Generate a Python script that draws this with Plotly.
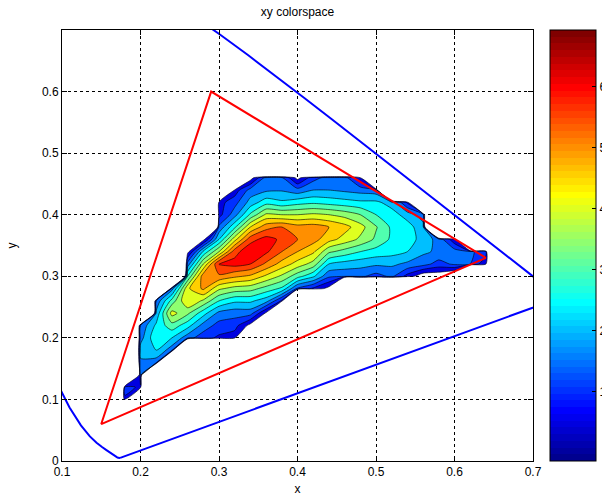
import plotly.graph_objects as go

# ---------------- data ----------------
title_text = "xy colorspace"
x_label = "x"
y_label = "y"

x_ticks = [0.1, 0.2, 0.3, 0.4, 0.5, 0.6, 0.7]
y_ticks = [0, 0.1, 0.2, 0.3, 0.4, 0.5, 0.6]
cbar_ticks = [1, 2, 3, 4, 5, 6]
cbar_min = -0.14
cbar_max = 6.93

# red triangle (gamut) corners
gamut_x = [0.64, 0.29, 0.15, 0.64]
gamut_y = [0.33, 0.60, 0.06, 0.33]

# CIE 1931 spectral locus (380..700 nm)
locus_x = [0.1741, 0.1740, 0.1738, 0.1736, 0.1733, 0.1730, 0.1726, 0.1721, 0.1714, 0.1703,
           0.1689, 0.1669, 0.1644, 0.1611, 0.1566, 0.1510, 0.1440, 0.1355, 0.1241, 0.1096,
           0.0913, 0.0687, 0.0454, 0.0235, 0.0082, 0.0039, 0.0139, 0.0389, 0.0743, 0.1142,
           0.1547, 0.1929, 0.2296, 0.2658, 0.3016, 0.3373, 0.3731, 0.4087, 0.4441, 0.4788,
           0.5125, 0.5448, 0.5752, 0.6029, 0.6270, 0.6482, 0.6658, 0.6801, 0.6915, 0.7006,
           0.7079, 0.7140, 0.7190, 0.7230, 0.7260, 0.7283, 0.7300, 0.7311, 0.7320, 0.7334,
           0.7344, 0.7347, 0.1741]
locus_y = [0.0050, 0.0050, 0.0049, 0.0049, 0.0048, 0.0048, 0.0048, 0.0048, 0.0051, 0.0058,
           0.0069, 0.0086, 0.0109, 0.0138, 0.0177, 0.0227, 0.0297, 0.0399, 0.0578, 0.0868,
           0.1327, 0.2007, 0.2950, 0.4127, 0.5384, 0.6548, 0.7502, 0.8120, 0.8338, 0.8262,
           0.8059, 0.7816, 0.7543, 0.7243, 0.6923, 0.6589, 0.6245, 0.5896, 0.5547, 0.5202,
           0.4866, 0.4544, 0.4242, 0.3965, 0.3725, 0.3514, 0.3340, 0.3197, 0.3083, 0.2993,
           0.2920, 0.2859, 0.2809, 0.2770, 0.2740, 0.2717, 0.2700, 0.2689, 0.2680, 0.2666,
           0.2656, 0.2653, 0.0050]

# density grid (log counts); E marks empty bins
E = -12.0
grid_x = [0.16, 0.18, 0.20, 0.22, 0.24, 0.26, 0.28, 0.30, 0.32, 0.34, 0.36, 0.38, 0.40,
          0.42, 0.44, 0.46, 0.48, 0.50, 0.52, 0.54, 0.56, 0.58, 0.60, 0.62, 0.64, 0.66]
grid_y = [0.08, 0.10, 0.12, 0.14, 0.16, 0.18, 0.20, 0.22, 0.24, 0.26, 0.28,
          0.30, 0.32, 0.34, 0.36, 0.38, 0.40, 0.42, 0.44, 0.46, 0.48]
density = [
    [E, E, E, E, E, E, E, E, E, E, E, E, E, E, E, E, E, E, E, E, E, E, E, E, E, E],
    [E, 0.9, E, E, E, E, E, E, E, E, E, E, E, E, E, E, E, E, E, E, E, E, E, E, E, E],
    [E, 1.2, 0.9, E, E, E, E, E, E, E, E, E, E, E, E, E, E, E, E, E, E, E, E, E, E, E],
    [E, E, 1.5, E, E, E, E, E, E, E, E, E, E, E, E, E, E, E, E, E, E, E, E, E, E, E],
    [E, E, 1.9, 1.7, E, E, E, E, E, E, E, E, E, E, E, E, E, E, E, E, E, E, E, E, E, E],
    [E, E, 2.2, 2.5, 1.7, E, E, E, E, E, E, E, E, E, E, E, E, E, E, E, E, E, E, E, E, E],
    [E, E, 1.8, 2.9, 2.5, 1.7, 1.2, 0.9, 0.7, E, E, E, E, E, E, E, E, E, E, E, E, E, E, E, E, E],
    [E, E, 1.6, 2.6, 3.3, 2.7, 1.8, 1.3, 1.2, 0.3, E, E, E, E, E, E, E, E, E, E, E, E, E, E, E, E],
    [E, E, E, 2.1, 4.2, 3.6, 2.7, 1.85, 1.7, 1.7, 0.4, E, E, E, E, E, E, E, E, E, E, E, E, E, E, E],
    [E, E, E, 1.6, 3.2, 4.5, 3.9, 3.0, 2.6, 2.6, 2.2, 0.9, E, E, E, E, E, E, E, E, E, E, E, E, E, E],
    [E, E, E, E, 1.8, 4.4, 5.1, 4.1, 3.8, 3.7, 3.3, 2.9, 1.4, 0.9, 0.3, E, E, E, E, E, E, E, E, E, E, E],
    [E, E, E, E, E, 3.0, 5.3, 5.4, 5.1, 4.9, 4.4, 3.9, 3.2, 2.6, 1.6, 1.6, 1.6, 1.3, 1.6, 0.8, 0.1, 0.1, -0.5, E, E, E],
    [E, E, E, E, E, 1.7, 4.0, 6.05, 6.2, 6.0, 5.4, 4.8, 4.3, 3.8, 2.5, 2.3, 2.2, 2.1, 2.1, 1.9, 1.7, 1.3, 1.6, 1.5, 0.6, E],
    [E, E, E, E, E, 0.3, 2.6, 4.0, 5.8, 6.4, 6.1, 5.5, 5.0, 4.6, 3.6, 3.3, 3.0, 2.8, 2.7, 2.5, 2.1, 1.9, 1.75, 1.6, 1.2, E],
    [E, E, E, E, E, E, 0.3, 2.5, 4.3, 5.8, 6.2, 5.9, 5.5, 5.2, 4.7, 4.3, 3.9, 3.4, 2.9, 2.75, 2.3, 1.8, 0.6, E, E, E],
    [E, E, E, E, E, E, E, 1.6, 2.9, 4.5, 5.3, 5.5, 5.2, 5.25, 5.0, 4.7, 4.2, 3.55, 2.9, 2.7, 2.2, E, E, E, E, E],
    [E, E, E, E, E, E, E, 0.8, 1.8, 3.1, 4.1, 4.0, 4.0, 4.1, 4.0, 3.8, 3.5, 3.0, 2.7, 2.3, 1.7, E, E, E, E, E],
    [E, E, E, E, E, E, E, 0.8, 1.3, 2.2, 2.8, 2.6, 2.8, 2.9, 2.8, 2.7, 2.6, 2.6, 2.3, 0.9, E, E, E, E, E, E],
    [E, E, E, E, E, E, E, E, 0.7, 1.7, 1.9, 1.95, 1.7, 2.0, 2.0, 1.9, 1.8, 1.7, E, E, E, E, E, E, E, E],
    [E, E, E, E, E, E, E, E, E, 0.2, 1.7, 1.6, 0.3, 1.3, 1.7, 1.7, 0.6, E, E, E, E, E, E, E, E, E],
    [E, E, E, E, E, E, E, E, E, E, E, E, E, E, E, E, E, E, E, E, E, E, E, E, E, E],
]
level_start = 0.5
level_end = 6.5
level_step = 0.5


# ---------------- MATLAB jet(64) colormap ----------------
def jet_table(m=64):
    n = -(-m // 4)
    u = [i / n for i in range(1, n + 1)] + [1.0] * (n - 1) + [i / n for i in range(n, 0, -1)]
    g0 = -(-n // 2) - (1 if m % 4 == 1 else 0)
    cols = [[0.0, 0.0, 0.0] for _ in range(m)]
    for k, val in enumerate(u):
        gi = g0 + k + 1
        ri = gi + n
        bi = gi - n
        if 1 <= ri <= m:
            cols[ri - 1][0] = val
        if 1 <= gi <= m:
            cols[gi - 1][1] = val
        if 1 <= bi <= m:
            cols[bi - 1][2] = val
    return ["rgb(%d,%d,%d)" % tuple(round(255 * c) for c in col) for col in cols]


JET = jet_table(64)


def jet_at(v):
    idx = int((v - cbar_min) / (cbar_max - cbar_min) * len(JET))
    idx = max(0, min(len(JET) - 1, idx))
    return JET[idx]


# stepped colorbar scale
bar_scale = []
for i, c in enumerate(JET):
    bar_scale.append([i / len(JET), c])
    bar_scale.append([(i + 1) / len(JET), c])

# contour band colours (region above each level gets jet(level)), transparent below first level
levels = []
lv = level_start
while lv <= level_end + 1e-9:
    levels.append(lv)
    lv += level_step
nc = len(levels)
band_scale = [[0.0, "rgba(255,255,255,0)"]]
for j, lv in enumerate(levels, start=1):
    band_scale.append([j / nc, jet_at(lv)])

FONT = "Liberation Sans, Arial, Helvetica, sans-serif"

fig = go.Figure()

fig.add_trace(go.Contour(
    x=grid_x, y=grid_y, z=density,
    autocontour=False,
    contours=dict(start=level_start, end=level_end, size=level_step,
                  coloring="fill", showlines=True),
    line=dict(color="black", width=0.6, smoothing=0.6),
    colorscale=band_scale, showscale=False, hoverinfo="skip",
))

fig.add_trace(go.Scatter(
    x=locus_x, y=locus_y, mode="lines",
    line=dict(color="#0000FF", width=2), showlegend=False, hoverinfo="skip",
))

fig.add_trace(go.Scatter(
    x=gamut_x, y=gamut_y, mode="lines",
    line=dict(color="#FF0000", width=2), showlegend=False, hoverinfo="skip",
))

# colorbar carrier
fig.add_trace(go.Scatter(
    x=[None], y=[None], mode="markers", showlegend=False, hoverinfo="skip",
    marker=dict(
        color=[0], cmin=cbar_min, cmax=cbar_max, colorscale=bar_scale, showscale=True,
        colorbar=dict(
            x=(550 - 62) / 471, xanchor="left", y=0.5, yanchor="middle",
            len=1.0, lenmode="fraction", thickness=46, thicknessmode="pixels",
            xpad=0, ypad=0, outlinewidth=1, outlinecolor="black",
            tickvals=cbar_ticks, ticktext=[str(t) for t in cbar_ticks],
            ticks="inside", ticklen=4, tickcolor="black",
            tickfont=dict(family=FONT, size=12, color="black"),
        ),
    ),
))

axis_common = dict(
    showline=True, linecolor="black", linewidth=1, mirror="allticks",
    ticks="inside", ticklen=5, tickcolor="black",
    showgrid=True, gridcolor="black", gridwidth=1, griddash="3px,3px",
    zeroline=False, tickfont=dict(family=FONT, size=12, color="black"),
)

fig.update_layout(
    width=602, height=503,
    margin=dict(l=62, r=69, t=30, b=42, autoexpand=False),
    paper_bgcolor="white", plot_bgcolor="white",
    showlegend=False,
    title=dict(text=title_text, x=0.5, xref="paper", y=1 - 12 / 503, yref="container",
               xanchor="center", yanchor="middle",
               font=dict(family=FONT, size=12, color="black")),
    xaxis=dict(range=[0.1, 0.7], tickvals=x_ticks, ticktext=[str(t) for t in x_ticks],
               title=dict(text=x_label, standoff=6, font=dict(family=FONT, size=12, color="black")),
               **axis_common),
    yaxis=dict(range=[0, 0.7], tickvals=y_ticks, ticktext=[str(t) for t in y_ticks],
               title=dict(text=y_label, standoff=22, font=dict(family=FONT, size=12, color="black")),
               **axis_common),
)

fig.write_html("out.html", config={"displayModeBar": False},
               post_script="document.body.style.margin='0';")
